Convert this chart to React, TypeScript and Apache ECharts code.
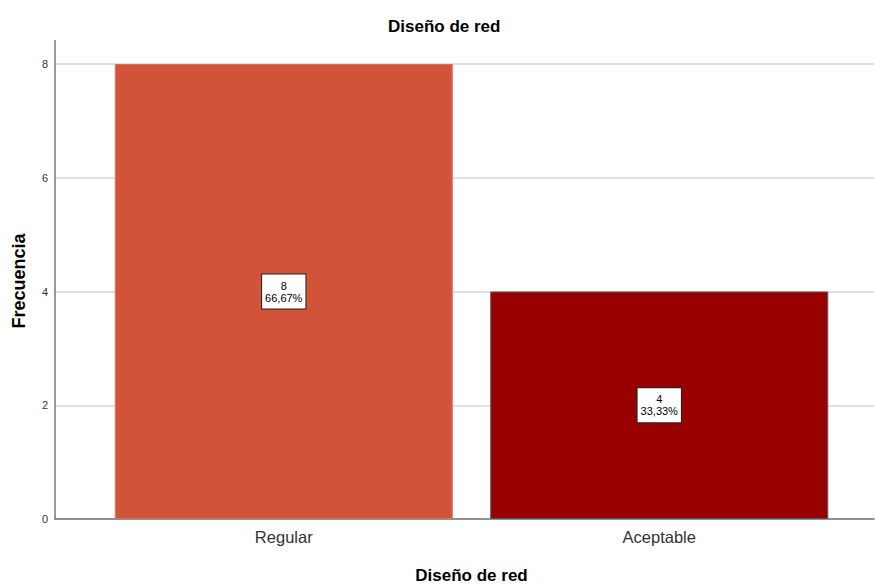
import React, { useEffect, useRef } from "react";
import * as echarts from "echarts";

const title = "Diseño de red";
const yAxisTitle = "Frecuencia";
const categories = ["Regular", "Aceptable"];
const counts = [8, 4];
const barColors = ["#D0533A", "#990000"];
const barBorders = ["#D9705C", "#555555"];
const yTicks = { min: 0, max: 8, interval: 2 };

const FONT = "'Liberation Sans', Arial, sans-serif";

export default function App() {
  const ref = useRef<HTMLDivElement>(null);
  useEffect(() => {
    if (!ref.current) return;
    const chart = echarts.init(ref.current, undefined, { renderer: "svg" });
    const total = counts.reduce((a, b) => a + b, 0);
    const pct = (v: number) => ((v / total) * 100).toFixed(2).replace(".", ",") + "%";
    chart.setOption({
      animation: false,
      backgroundColor: "#ffffff",
      textStyle: { fontFamily: FONT },
      title: {
        text: title,
        left: 383,
        top: 13,
        textStyle: { fontSize: 17, fontWeight: "bold", color: "#000", fontFamily: FONT },
      },
      grid: [
        { left: 55, right: 1, top: 64, bottom: 66, containLabel: false, outerBoundsMode: "none" },
        { left: 96, right: 28, top: 64, bottom: 66, containLabel: false, outerBoundsMode: "none" },
      ],
      xAxis: [
        {
          gridIndex: 0,
          type: "category",
          data: categories,
          axisLine: { show: true, lineStyle: { color: "#777", width: 1.5 } },
          axisTick: { show: false },
          axisLabel: { show: false },
          splitLine: { show: false },
        },
        {
          gridIndex: 1,
          type: "category",
          data: categories,
          axisLine: { show: false },
          axisTick: { show: false },
          axisLabel: { color: "#333", fontSize: 16.5, margin: 9, fontFamily: FONT },
          name: title,
          nameLocation: "middle",
          nameGap: 48,
          nameTextStyle: { fontSize: 17, fontWeight: "bold", color: "#000", fontFamily: FONT },
        },
      ],
      yAxis: [
        {
          gridIndex: 0,
          type: "value",
          min: yTicks.min,
          max: yTicks.max,
          interval: yTicks.interval,
          axisLine: { show: true, lineStyle: { color: "#777", width: 1.5 } },
          axisTick: { show: false },
          axisLabel: { color: "#333", fontSize: 11, margin: 7, fontFamily: FONT },
          splitLine: { show: true, lineStyle: { color: "#d6d6d6", width: 1.5 } },
        },
        {
          gridIndex: 1,
          type: "value",
          min: yTicks.min,
          max: yTicks.max,
          interval: yTicks.interval,
          show: false,
        },
      ],
      graphic: [
        {
          type: "line",
          shape: { x1: 55, y1: 40, x2: 55, y2: 64 },
          style: { stroke: "#777", lineWidth: 1.5 },
        },
        {
          type: "text",
          x: 19,
          y: 281,
          rotation: Math.PI / 2,
          style: {
            text: yAxisTitle,
            align: "center",
            verticalAlign: "middle",
            fill: "#000",
            fontSize: 18,
            fontWeight: "bold",
            fontFamily: FONT,
          },
        },
      ],
      series: [
        {
          type: "bar",
          xAxisIndex: 1,
          yAxisIndex: 1,
          barWidth: 338,
          data: counts.map((v, i) => ({
            value: v,
            itemStyle: { color: barColors[i], borderColor: barBorders[i], borderWidth: 1 },
          })),
          label: {
            show: true,
            position: "inside",
            formatter: (p: any) => `${p.value}\n${pct(p.value)}`,
            color: "#000",
            fontSize: 11,
            lineHeight: 12,
            fontFamily: FONT,
            backgroundColor: "#ffffff",
            borderColor: "#222",
            borderWidth: 1,
            padding: [5, 3, 5, 3],
            align: "center",
          },
        },
      ],
    });
    return () => chart.dispose();
  }, []);
  return (
    <div
      ref={ref}
      style={{ position: "fixed", left: 0, top: 0, width: 875, height: 585 }}
    />
  );
}
